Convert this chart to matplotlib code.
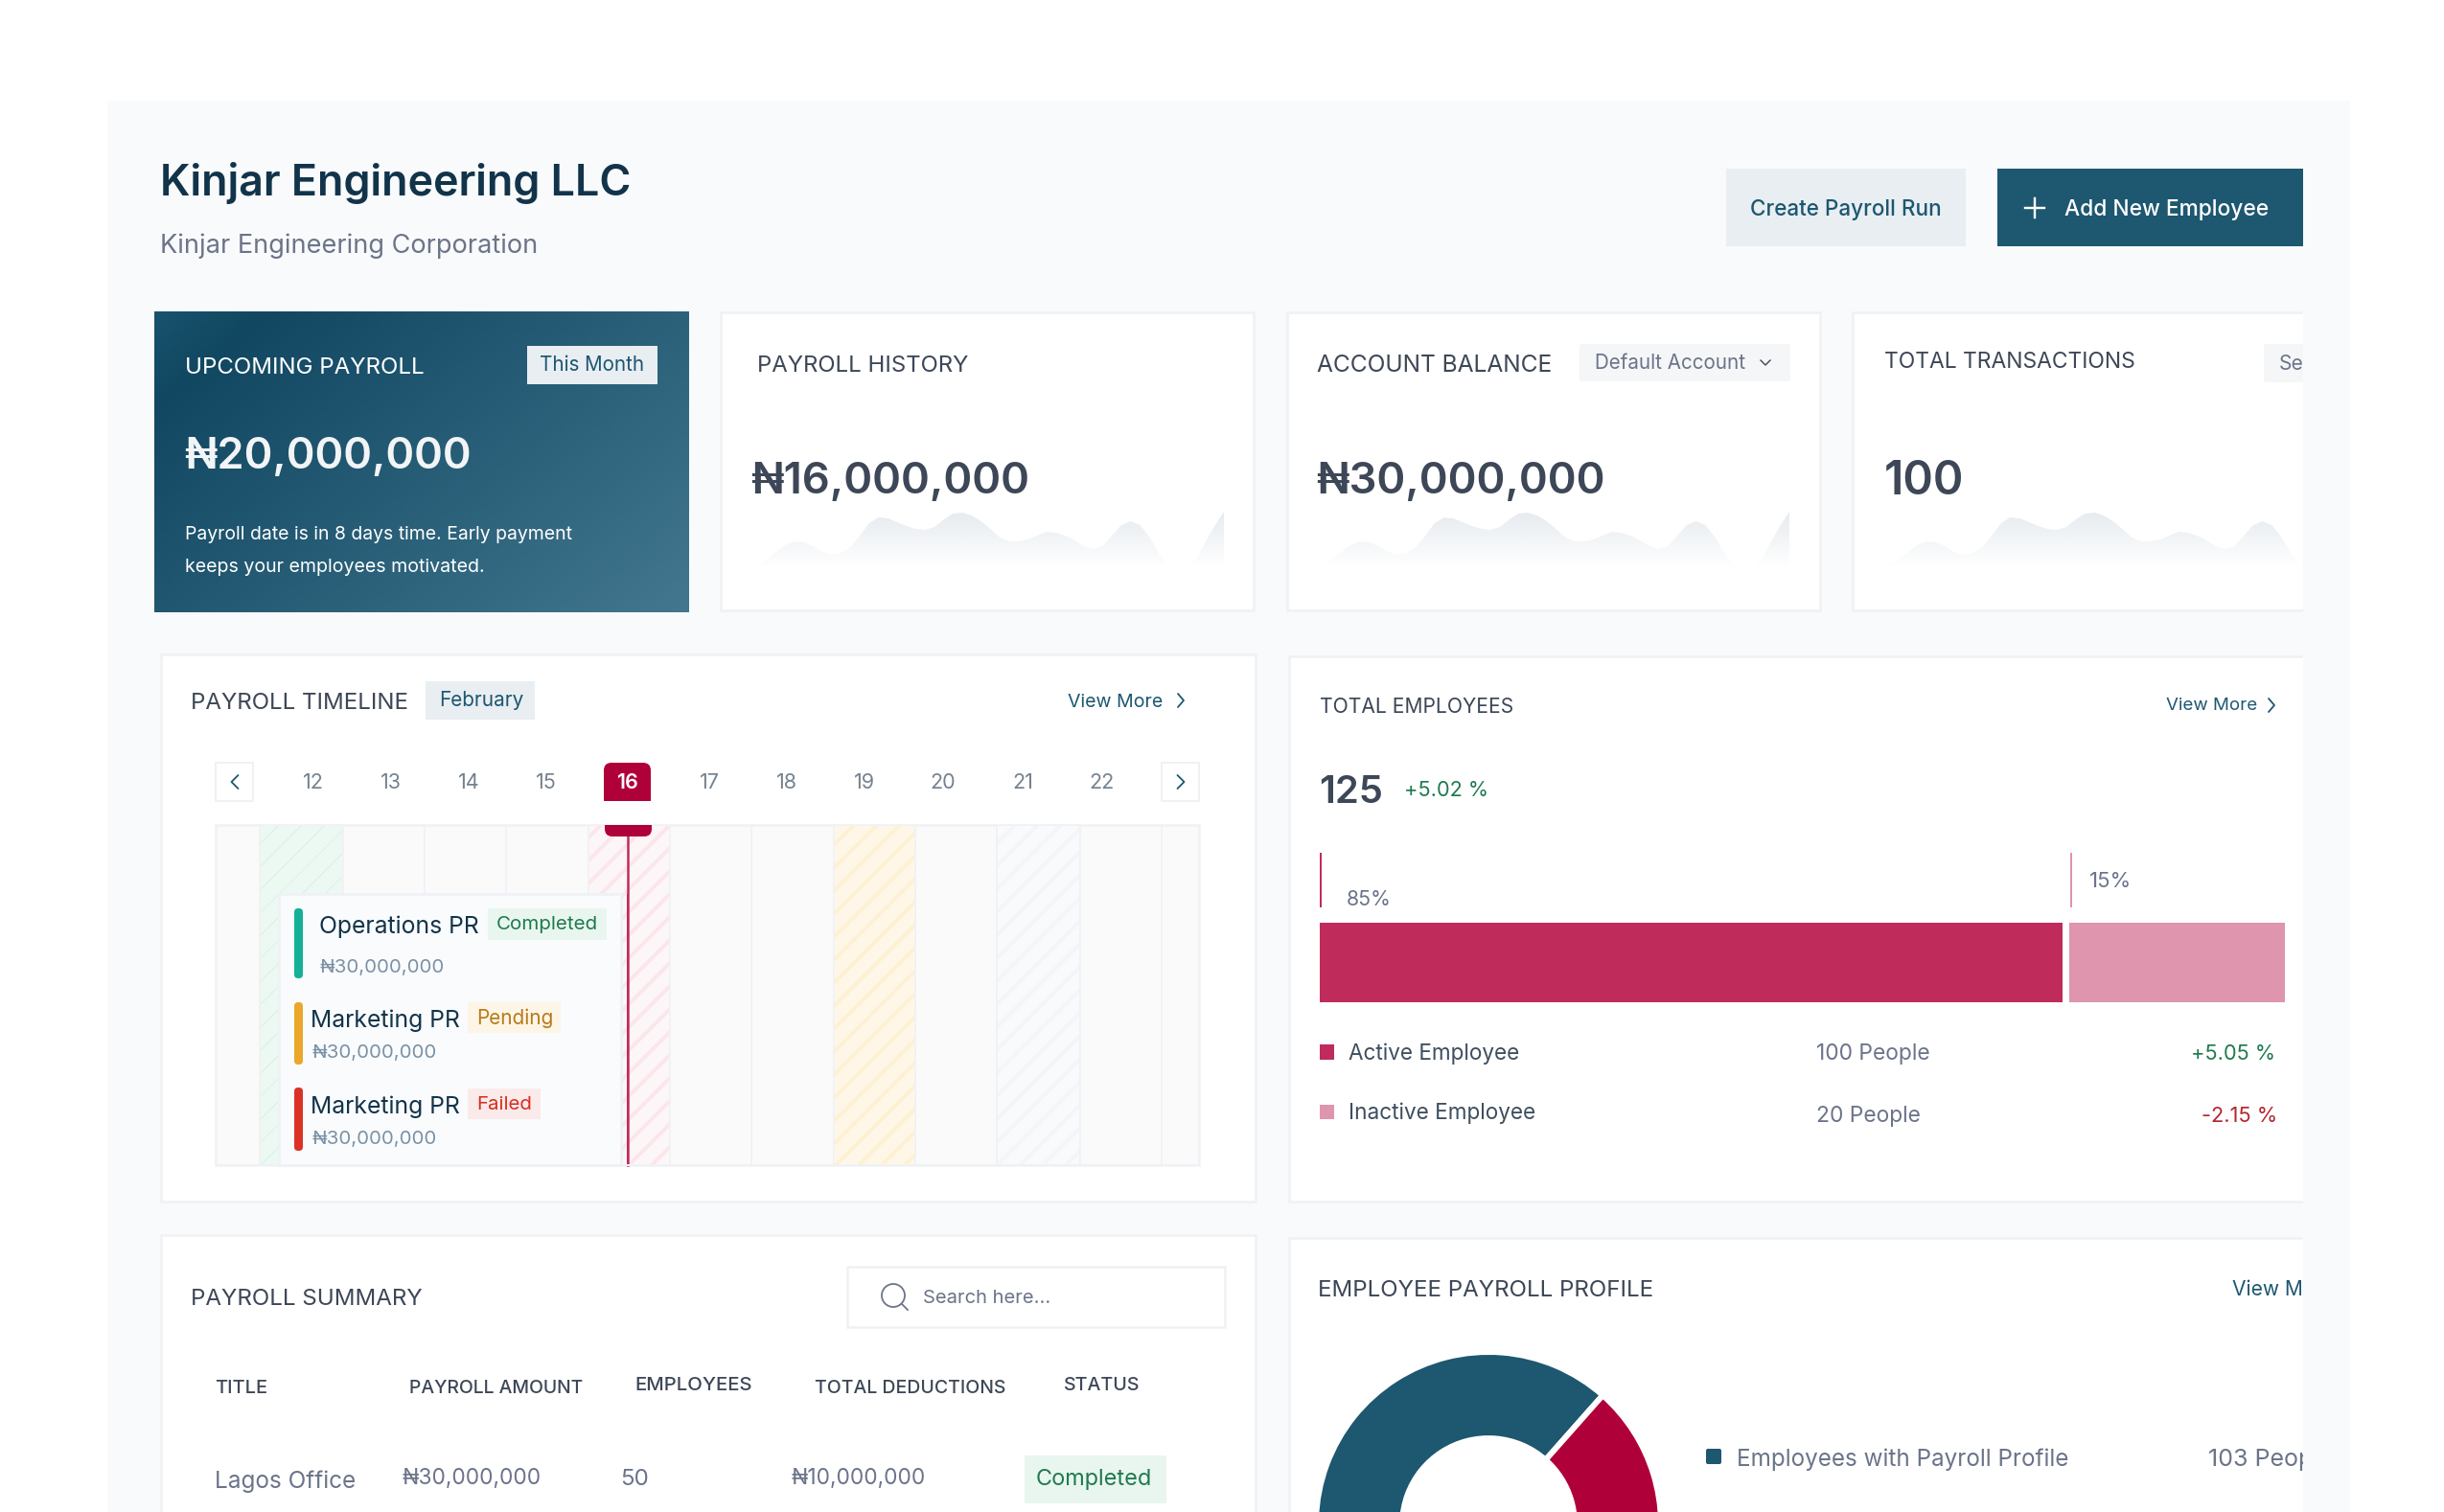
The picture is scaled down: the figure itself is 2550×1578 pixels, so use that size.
import numpy as np
import matplotlib
matplotlib.use('Agg')
import matplotlib.pyplot as plt
from matplotlib.colors import LinearSegmentedColormap, to_rgb
from matplotlib.patches import Rectangle, FancyBboxPatch, Circle

# Data
company = 'Kinjar Engineering LLC'
company_sub = 'Kinjar Engineering Corporation'
card_titles = ['UPCOMING PAYROLL', 'PAYROLL HISTORY', 'ACCOUNT BALANCE', 'TOTAL TRANSACTIONS']
card_values = ['₦20,000,000', '₦16,000,000', '₦30,000,000', '100']
dates = ['12', '13', '14', '15', '16', '17', '18', '19', '20', '21', '22']
timeline_names = ['Operations PR', 'Marketing PR', 'Marketing PR']
timeline_status = ['Completed', 'Pending', 'Failed']
timeline_amount = '₦30,000,000'
employee_total = '125'
employee_change = '+5.02 %'
bar_labels = ['85%', '15%']
bar_lengths = [77.0, 22.3]
legend_names = ['Active Employee', 'Inactive Employee']
legend_people = ['100 People', '20 People']
legend_change = ['+5.05 %', '-2.15 %']
table_headers = ['TITLE', 'PAYROLL AMOUNT', 'EMPLOYEES', 'TOTAL DEDUCTIONS', 'STATUS']
table_row = ['Lagos Office', '₦30,000,000', '50', '₦10,000,000', 'Completed']
profile_values = [103, 22]
# sparkline height, one reading about every 10 px, same shape on all three cards
spark = [2, 8, 16, 23, 27, 26, 22, 16, 13, 15, 21, 33, 46, 52, 51, 47, 43, 40, 39, 42,
         50, 56, 57, 54, 48, 40, 31, 27, 27, 29, 33, 37, 36, 33, 28, 22, 19, 22, 33, 44,
         48, 44, 32, 15, 2, 0, 0, 8, 26, 43, 58]

TEAL = '#1d5770'
CRIMSON = '#b0003a'
INK = '#3d4757'
GREY = '#6b7489'
GREEN = '#1f7a4d'
BORDER = '#eff1f4'
W, H = 2550, 1578
CLIP_X = 2403

plt.rcParams['font.family'] = ['Inter', 'Noto Sans', 'DejaVu Sans']
fig = plt.figure(figsize=(W / 72, H / 72), dpi=72, facecolor='white')
ax = fig.add_axes([0, 0, 1, 1])
ax.set_xlim(0, W)
ax.set_ylim(H, 0)
ax.axis('off')
renderer = fig.canvas.get_renderer()
clip_right = Rectangle((0, 0), CLIP_X, H, transform=ax.transData)


def px_rect(x0, y0, x1, y1):
    return [x0 / W, 1 - y1 / H, (x1 - x0) / W, (y1 - y0) / H]


def box(x0, y0, x1, y1, color, edge='none', lw=0, z=1, clip=True):
    p = Rectangle((x0, y0), x1 - x0, y1 - y0, facecolor=color, edgecolor=edge, linewidth=lw, zorder=z)
    ax.add_patch(p)
    if clip:
        p.set_clip_path(clip_right)
    return p


def rbox(x0, y0, x1, y1, color, r=4, z=3, cut=None):
    p = FancyBboxPatch((x0 + r, y0 + r), x1 - x0 - 2 * r, y1 - y0 - 2 * r,
                       boxstyle='round,pad=%g,rounding_size=%g' % (r, r),
                       facecolor=color, edgecolor='none', linewidth=0, zorder=z)
    ax.add_patch(p)
    if cut is not None:
        p.set_clip_path(Rectangle((cut[0], cut[1]), cut[2] - cut[0], cut[3] - cut[1], transform=ax.transData))
    return p


def txt(x0, x1, y, s, color=INK, weight='normal', size=None, z=5, clip=False):
    # x0..x1 is the width the string should fill, y its visual middle
    t = ax.text(x0, y, s, color=color, fontweight=weight, fontsize=size or 20, va='baseline', ha='left', zorder=z)
    if size is None:
        size = 20 * (x1 - x0) / t.get_window_extent(renderer).width
        t.set_fontsize(size)
    t.set_y(y + 0.36 * size)
    if clip:
        t.set_clip_path(clip_right)
        t.set_clip_on(True)
    return t


def chevron(x, y, w, h, color=TEAL, lw=1.8, z=5):
    # w > 0 points right, w < 0 points left
    ax.plot([x - w, x + w, x - w], [y - h, y, y + h], color=color, lw=lw, zorder=z,
            solid_capstyle='round', solid_joinstyle='round')


# page panel
box(112, 105, 2452, H, '#f9fafb', z=0, clip=False)

# header
txt(167, 660, 188, company, '#12344a', 'semibold')
txt(167, 560, 254, company_sub, GREY)
box(1801, 176, 2051, 257, '#e9eef2')
txt(1826, 2026, 217, 'Create Payroll Run', TEAL, 'medium')
box(2084, 176, 2403, 257, TEAL)
ax.plot([2113, 2133], [217, 217], color='white', lw=2.4, zorder=5)
ax.plot([2123, 2123], [207, 227], color='white', lw=2.4, zorder=5)
txt(2154, 2367, 217, 'Add New Employee', 'white', 'medium')

# gradient payroll card
grad = LinearSegmentedColormap.from_list('card', [(0, '#18536d'), (0.12, '#114761'), (1, '#42778f')])
gx, gy = np.meshgrid(np.linspace(0, 1, 200), np.linspace(0, 1, 120))
ax.imshow(0.6 * gx + 0.4 * gy, cmap=grad, extent=(161, 719, 639, 325), aspect='auto', zorder=1, vmin=0, vmax=1)
ax.set_xlim(0, W)
ax.set_ylim(H, 0)
txt(193, 443, 381, card_titles[0], 'white')
box(550, 361, 686, 401, '#e9eef2', z=2)
txt(563, 672, 380, 'This Month', TEAL)
txt(192, 491, 473, card_values[0], '#f2f4f6', 'semibold')
txt(193, 597, 556, 'Payroll date is in 8 days time. Early payment', 'white')
txt(193, 505, 590, 'keeps your employees motivated.', 'white')

# white cards with sparklines
for x0, x1 in [(752, 1308), (1343, 1899), (1933, CLIP_X + 10)]:
    box(x0, 326, x1, 637, 'white', BORDER, 2.5)

txt(790, 1011, 379, card_titles[1])
txt(1374, 1620, 379, card_titles[2])
txt(1966, 2228, 376, card_titles[3])
txt(783, 1074, 499, card_values[1], INK, 'semibold')
txt(1373, 1674, 499, card_values[2], INK, 'semibold')
txt(1966, 2049, 499, card_values[3], INK, 'semibold')
rbox(1648, 359, 1868, 398, '#f5f6f7', r=3)
txt(1664, 1821, 378, 'Default Account', GREY)
ax.plot([1837, 1842, 1847], [376, 381, 376], color=INK, lw=1.4, zorder=5)
rbox(2362, 359, 2440, 399, '#f5f6f7', r=3).set_clip_path(clip_right)
txt(2378, 0, 378, 'Select', GREY, size=21, clip=True)

fade = np.zeros((100, 1, 4))
fade[..., :3] = to_rgb('#dce3e9')
fade[..., 3] = np.linspace(0.72, 0, 100)[:, None]
for x0, x1, n in [(790, 1277, 50), (1380, 1867, 50), (1971, 2403, 44.35)]:
    sp = fig.add_axes(px_rect(x0, 534, x1, 592))
    sp.axis('off')
    sp.set_xlim(0, n)
    sp.set_ylim(0, 58)
    band = sp.fill_between(np.arange(len(spark)), 0, spark, color='none')
    img = sp.imshow(fade, extent=(0, n, 0, 58), aspect='auto')
    img.set_clip_path(band.get_paths()[0], transform=sp.transData)
    sp.set_xlim(0, n)
    sp.set_ylim(0, 58)

# payroll timeline
box(168, 683, 1310, 1254, 'white', BORDER, 2.5)
txt(199, 426, 731, 'PAYROLL TIMELINE')
box(444, 711, 558, 751, '#e9eef2')
txt(458, 546, 730, 'February', TEAL)
txt(1114, 1213, 731, 'View More', TEAL)
chevron(1232, 731, 3, 7)

box(225, 796, 264, 836, 'white', BORDER, 2, z=2)
box(1212, 796, 1251, 836, 'white', BORDER, 2, z=2)
chevron(245, 816, -3.5, 7)
chevron(1232, 816, 3.5, 7)
date_x = [327, 408, 489, 570, 654, 740, 821, 902, 984, 1067, 1149]
rbox(630, 796, 679, 860, CRIMSON, r=8, z=2, cut=(620, 790, 690, 836))
for d, x in zip(dates, date_x):
    on = d == '16'
    ax.text(x, 815 + 8, d, color='white' if on else '#74828f', fontsize=21.5, ha='center', va='baseline',
            fontweight='semibold' if on else 'normal', zorder=5)

box(225, 861, 1251, 1216, '#fafafa', BORDER, 2.5, z=1)


def hatched(x0, x1, base, stripe, lw):
    plt.rcParams['hatch.linewidth'] = lw
    ax.add_patch(Rectangle((x0, 862), x1 - x0, 353, facecolor=base, edgecolor=stripe, hatch='/', linewidth=0, zorder=1.6))


hatched(271, 358, '#ecf8f2', '#d8eee3', 0.8)
hatched(614, 699, '#fdf6f8', '#fbe6ea', 4)
hatched(870, 955, '#fef7e8', '#fef0d3', 4)
hatched(1040, 1127, '#f9fafb', '#f3f5f8', 4)
for x in [271, 358, 443, 528, 614, 699, 784, 870, 955, 1040, 1127, 1212]:
    ax.plot([x, x], [861, 1216], color='#f1f2f4', lw=1.8, zorder=1.7)
rbox(631, 845, 680, 873, CRIMSON, r=8, z=4, cut=(620, 861, 690, 880))
ax.plot([655, 655], [865, 1216], color='#c02c5a', lw=2.5, zorder=3.9)

box(291, 933, 648, 1216, '#fafbfc', '#eef1f5', 2.5, z=3)
box(225, 1215, 1251, 1217, BORDER, z=4)
box(654, 933, 656, 1216, '#c02c5a', z=3.9)

rows = [
    dict(bar=(948, 1021), bc='#14b097', name=(333, 500, 965), tag=(509, 633, 948, 981), tc='#e9f6ef',
         st=(518, 624, 963), sc=GREEN, amt=(333, 464, 1008)),
    dict(bar=(1046, 1111), bc='#eba72b', name=(324, 480, 1063), tag=(488, 585, 1046, 1078), tc='#fdf5e6',
         st=(497, 577, 1062), sc='#b87a1a', amt=(325, 456, 1097)),
    dict(bar=(1135, 1201), bc='#dc3226', name=(324, 480, 1153), tag=(488, 564, 1136, 1168), tc='#fbeaea',
         st=(497, 555, 1151), sc='#d92d20', amt=(325, 456, 1187)),
]
for name, status, r in zip(timeline_names, timeline_status, rows):
    rbox(307, r['bar'][0], 316, r['bar'][1], r['bc'], r=4, z=4)
    txt(r['name'][0], r['name'][1], r['name'][2], name, '#12344a', z=6)
    box(r['tag'][0], r['tag'][2], r['tag'][1], r['tag'][3], r['tc'], z=4)
    txt(r['st'][0], r['st'][1], r['st'][2], status, r['sc'], z=6)
    txt(r['amt'][0], r['amt'][1], r['amt'][2], timeline_amount, '#7a92a6', z=6)

# total employees
box(1345, 685, CLIP_X + 10, 1254, 'white', BORDER, 2.5)
txt(1377, 1579, 736, 'TOTAL EMPLOYEES')
txt(2260, 2355, 734, 'View More', TEAL)
chevron(2370, 736, 3, 7)
txt(1376, 1443, 824, employee_total, INK, 'semibold')
txt(1465, 1553, 823, employee_change, GREEN)
ax.plot([1378, 1378], [891, 946], color='#c02c5a', lw=2, zorder=3)
ax.plot([2161, 2161], [891, 946], color='#de94ac', lw=2, zorder=3)
txt(1405, 1452, 937, bar_labels[0], GREY)
txt(2180, 2224, 918, bar_labels[1], GREY)

ax_bar = fig.add_axes(px_rect(1376.5, 963, 2384, 1046))
ax_bar.barh([0], [bar_lengths[0]], height=1, color='#bf2c5b')
ax_bar.barh([0], [bar_lengths[1]], left=bar_lengths[0] + 0.7, height=1, color='#de95ad')
ax_bar.set_xlim(0, 100)
ax_bar.set_ylim(-0.5, 0.5)
ax_bar.axis('off')

box(1377, 1090, 1392, 1106, '#bf2c5b')
box(1377, 1153, 1392, 1168, '#de95ad')
txt(1407, 1585, 1098, legend_names[0], '#3d4f5f')
txt(1407, 1602, 1160, legend_names[1], '#3d4f5f')
txt(1895, 2014, 1098, legend_people[0], GREY)
txt(1895, 2004, 1163, legend_people[1], GREY)
txt(2286, 2374, 1098, legend_change[0], GREEN)
txt(2297, 2376, 1163, legend_change[1], '#b3262e')

# payroll summary
box(168, 1289, 1310, H + 10, 'white', BORDER, 2.5)
txt(199, 441, 1353, 'PAYROLL SUMMARY')
box(884, 1322, 1278, 1385, 'white', '#f0f1f3', 2.5)
ax.add_patch(Circle((932, 1352), 12, facecolor='none', edgecolor=GREY, lw=1.8, zorder=5))
ax.plot([941, 947], [1361, 1367], color=GREY, lw=1.8, zorder=5)
txt(963, 1096, 1353, 'Search here...', GREY)

head_pos = [(224, 279, 1447), (427, 609, 1447), (662, 785, 1444), (850, 1049, 1447), (1110, 1189, 1444)]
for h, (a, b, y) in zip(table_headers, head_pos):
    txt(a, b, y, h, INK, 'medium')
row_pos = [(224, 371, 1544), (419, 565, 1541), (647, 677, 1541), (825, 966, 1541)]
for v, (a, b, y) in zip(table_row, row_pos):
    txt(a, b, y, v, GREY)
box(1069, 1519, 1217, 1569, '#e9f6ef')
txt(1081, 1202, 1542, table_row[4], GREEN)

# employee payroll profile
box(1345, 1292, CLIP_X + 10, H + 10, 'white', BORDER, 2.5)
txt(1375, 1726, 1344, 'EMPLOYEE PAYROLL PROFILE')
txt(2329, 0, 1344, 'View More', TEAL, size=21, clip=True)

ax_pie = fig.add_axes(px_rect(1376, 1414, 1730, 1768))
ax_pie.pie(profile_values, colors=[TEAL, CRIMSON], startangle=48.5, radius=1.017,
           wedgeprops=dict(width=0.509, edgecolor='white', linewidth=6))
ax_pie.set_xlim(-1, 1)
ax_pie.set_ylim(-1, 1)

rbox(1780, 1512, 1796, 1528, TEAL, r=2)
txt(1812, 2158, 1521, 'Employees with Payroll Profile', GREY)
txt(2304, 0, 1521, '103 People', GREY, size=25, clip=True)

fig.savefig('out.png', dpi=72, facecolor='white')
